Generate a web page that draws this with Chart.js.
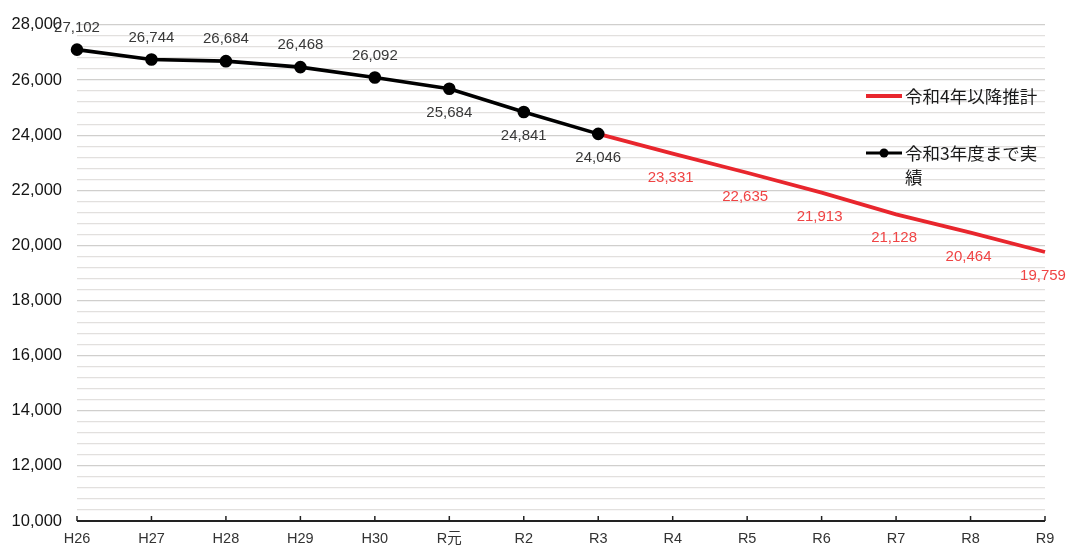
<!DOCTYPE html>
<html>
<head>
<meta charset="utf-8">
<script src="https://cdn.jsdelivr.net/npm/chart.js@4/dist/chart.umd.min.js"></script>
<style>
  html, body { margin: 0; padding: 0; background: #fff; }
  #wrap { width: 1071px; height: 548px; position: relative; }
</style>
</head>
<body>
<div id="wrap"><canvas id="c" width="1071" height="548"></canvas></div>
<script>
// Fiscal years
const years = ['H26', 'H27', 'H28', 'H29', 'H30', 'R元', 'R2', 'R3', 'R4', 'R5', 'R6', 'R7', 'R8', 'R9'];
// Actual figures up to R3
const actual = [27102, 26744, 26684, 26468, 26092, 25684, 24841, 24046, null, null, null, null, null, null];
// Projection from R4 on (starts at the R3 actual value)
const projected = [null, null, null, null, null, null, null, 24046, 23331, 22635, 21913, 21128, 20464, 19759];
// Which actual labels sit above the point
const actualLabelAbove = [true, true, true, true, true, false, false, false];
// Y axis ticks
const yMin = 10000, yMax = 28000, yLabelStep = 2000, yGridStep = 400;

const legendItems = [
  { text: ['令和4年以降推計'], color: '#e8262d', point: false },
  { text: ['令和3年度まで実', '績'], color: '#000000', point: true }
];

const NUM_FONT = '"Liberation Sans", Arial, "Noto Sans CJK JP", sans-serif';
const CJK_FONT = '"Noto Sans CJK JP", "Noto Sans", sans-serif';
const fmt = v => v.toLocaleString('en-US');

const labelsPlugin = {
  id: 'valueLabels',
  afterDatasetsDraw(chart) {
    const ctx = chart.ctx;
    ctx.save();
    ctx.font = '15px ' + NUM_FONT;
    ctx.textAlign = 'center';
    ctx.textBaseline = 'middle';
    // actual values
    const m0 = chart.getDatasetMeta(0);
    actual.forEach((v, i) => {
      if (v == null) return;
      const p = m0.data[i];
      ctx.fillStyle = '#383838';
      const dy = actualLabelAbove[i] ? -22 : 24;
      ctx.fillText(fmt(v), p.x, p.y + dy);
    });
    // projected values (R3 point is labelled by the actual series)
    const m1 = chart.getDatasetMeta(1);
    projected.forEach((v, i) => {
      if (v == null || actual[i] != null) return;
      const p = m1.data[i];
      ctx.fillStyle = '#f04444';
      ctx.fillText(fmt(v), p.x - 2, p.y + 24);
    });
    ctx.restore();
  }
};

const axisTicksPlugin = {
  id: 'axisTicks',
  afterDatasetsDraw(chart) {
    const ctx = chart.ctx;
    const xs = chart.scales.x;
    const y = chart.chartArea.bottom;
    ctx.save();
    ctx.strokeStyle = '#222';
    ctx.lineWidth = 2;
    ctx.beginPath();
    ctx.moveTo(chart.chartArea.left, y);
    ctx.lineTo(chart.chartArea.right, y);
    ctx.stroke();
    ctx.lineWidth = 1.5;
    years.forEach((_, i) => {
      const x = xs.getPixelForValue(i);
      ctx.beginPath();
      ctx.moveTo(x, y);
      ctx.lineTo(x, y - 5);
      ctx.stroke();
    });
    ctx.restore();
  }
};

const legendPlugin = {
  id: 'insideLegend',
  afterDraw(chart) {
    const ctx = chart.ctx;
    ctx.save();
    ctx.font = '17.5px ' + CJK_FONT;
    ctx.textBaseline = 'middle';
    const rows = [96, 153];
    legendItems.forEach((it, k) => {
      const y = rows[k];
      ctx.strokeStyle = it.color;
      ctx.lineWidth = it.point ? 3.2 : 3.8;
      ctx.beginPath();
      ctx.moveTo(866, y);
      ctx.lineTo(902, y);
      ctx.stroke();
      if (it.point) {
        ctx.fillStyle = it.color;
        ctx.beginPath();
        ctx.arc(884, y, 4.5, 0, Math.PI * 2);
        ctx.fill();
      }
      ctx.fillStyle = '#1a1a1a';
      it.text.forEach((t, j) => ctx.fillText(t, 905, y + j * 24));
    });
    ctx.restore();
  }
};

new Chart(document.getElementById('c'), {
  type: 'line',
  data: {
    labels: years,
    datasets: [
      {
        data: actual,
        borderColor: '#000000',
        backgroundColor: '#000000',
        borderWidth: 3.6,
        pointRadius: 4.5,
        pointHoverRadius: 4.5,
        pointBackgroundColor: '#000000',
        tension: 0,
        spanGaps: false
      },
      {
        data: projected,
        borderColor: '#e8262d',
        backgroundColor: '#e8262d',
        borderWidth: 3.8,
        pointRadius: 0,
        pointHoverRadius: 0,
        tension: 0,
        spanGaps: false
      }
    ]
  },
  options: {
    responsive: false,
    animation: false,
    events: [],
    layout: { padding: { top: 23, right: 26, left: 0, bottom: 0 } },
    plugins: { legend: { display: false }, tooltip: { enabled: false } },
    scales: {
      x: {
        offset: false,
        grid: { display: false, drawTicks: false },
        border: { display: false },
        ticks: {
          color: '#333',
          font: { family: NUM_FONT, size: 14.5 },
          padding: 9,
          maxRotation: 0,
          autoSkip: false
        },
        afterFit(s) { s.height = 27; }
      },
      y: {
        min: yMin,
        max: yMax,
        grid: {
          color: ctx => (ctx.tick && ctx.tick.value % yLabelStep === 0) ? '#d0cfcd' : '#e2e0de',
          lineWidth: 1.2,
          drawTicks: false
        },
        border: { display: false },
        ticks: {
          stepSize: yGridStep,
          autoSkip: false,
          color: '#141414',
          font: { family: NUM_FONT, size: 16.5 },
          padding: 15,
          callback: v => (v % yLabelStep === 0) ? fmt(v) : ''
        },
        afterFit(s) { s.width = 77; }
      }
    }
  },
  plugins: [labelsPlugin, axisTicksPlugin, legendPlugin]
});
</script>
</body>
</html>
